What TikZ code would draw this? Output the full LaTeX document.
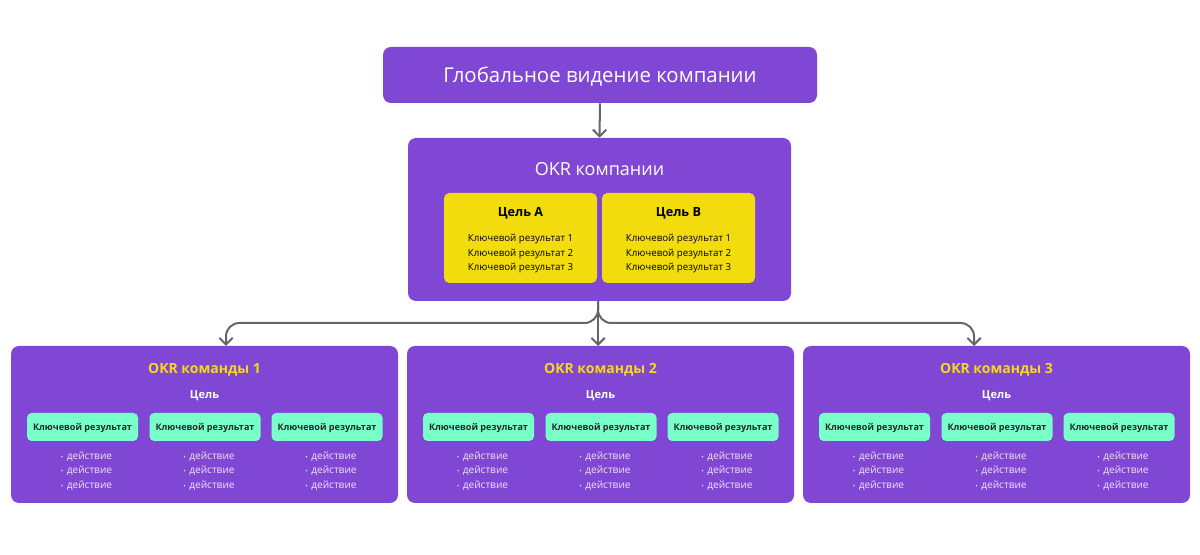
\documentclass[tikz,border=0pt]{standalone}
\usepackage{fontspec}
\setmainfont{Open Sans}
\usetikzlibrary{arrows.meta}
\definecolor{okrpurple}{HTML}{8047D4}
\definecolor{goalyellow}{HTML}{F2DC0E}
\definecolor{krgreen}{HTML}{78FFCA}
\definecolor{titleyellow}{HTML}{F7D81A}
\definecolor{actcol}{HTML}{EDE3FA}
\definecolor{linegray}{HTML}{666666}
\tikzset{
  purplebox/.style={fill=okrpurple, draw=none, rounded corners=6pt, inner sep=0pt},
  yellowbox/.style={fill=goalyellow, draw=none, rounded corners=4pt, inner sep=0pt, minimum width=114.75pt, minimum height=67.5pt},
  greenbox/.style={fill=krgreen, draw=none, rounded corners=3.5pt, inner sep=0pt, minimum width=83.25pt, minimum height=21pt},
  krtext/.style={font=\fontsize{6.8}{8}\selectfont\bfseries, text=black!85, inner sep=0pt},
  teambox/.style={purplebox, minimum width=290.25pt, minimum height=117.75pt},
  teamtitle/.style={font=\fontsize{10.5}{12}\selectfont\bfseries, text=titleyellow, inner sep=0pt},
  goalword/.style={font=\fontsize{8.3}{10}\selectfont\bfseries, text=white, inner sep=0pt},
  acts/.style={font=\fontsize{7.6}{10.9}\selectfont, text=actcol, align=left, inner sep=0pt},
  conn/.style={draw=linegray, line width=1.5pt, -{Straight Barb[length=5pt,width=10pt,line width=1.5pt]}},
}
\newcommand{\actlist}{{\tiny•}\,\,действие\\{\tiny•}\,\,действие\\{\tiny•}\,\,действие}
\begin{document}
\begin{tikzpicture}[x=0.75pt,y=-0.75pt]
\useasboundingbox (0,0) rectangle (1200,555);
\fill[white] (0,0) rectangle (1200,555);

% top box
\node[purplebox, minimum width=325.5pt, minimum height=42pt] (top) at (600,75) {};
\node[text=white, font=\fontsize{15.3}{18}\selectfont, inner sep=0pt] (toptitle) at (600,76.5) {Глобальное видение компании};

% company OKR
\node[purplebox, minimum width=287.25pt, minimum height=122.25pt] (okr) at (599.5,219.5) {};
\node[font=\fontsize{13.5}{16}\selectfont, text=white, inner sep=0pt] (okrtitle) at (599.5,169.5) {OKR компании};

\node[yellowbox] (goalA) at (520.5,238) {};
\node[yellowbox] (goalB) at (678.5,238) {};
\node[font=\fontsize{9.5}{11}\selectfont\bfseries, inner sep=0pt] (goalAt) at (520.5,213) {Цель А};
\node[font=\fontsize{9.5}{11}\selectfont\bfseries, inner sep=0pt] (goalBt) at (678.5,213) {Цель B};
\node[font=\fontsize{7.3}{10.9}\selectfont, align=center, inner sep=0pt] (goalAl) at (520.5,253.5) {Ключевой результат 1\\Ключевой результат 2\\Ключевой результат 3};
\node[font=\fontsize{7.3}{10.9}\selectfont, align=center, inner sep=0pt] (goalBl) at (678.5,253.5) {Ключевой результат 1\\Ключевой результат 2\\Ключевой результат 3};

% teams
\foreach \i/\cx in {1/204.5, 2/600.5, 3/996.5}{
  \node[teambox] (team\i) at (\cx,424.5) {};
  \node[teamtitle] (team\i t) at (\cx,370) {OKR команды \i};
  \node[goalword] (team\i g) at (\cx,396) {Цель};
  \foreach \j/\dx in {1/-122, 2/0.5, 3/122.5}{
    \node[greenbox] (kr\i\j) at (\cx+\dx,427) {};
    \node[krtext] (kr\i\j t) at (\cx+\dx,428) {Ключевой результат};
    \node[acts] (act\i\j) at (\cx+\dx+4,471) {\actlist};
  }
}

% connectors
\draw[conn] (top.south) -- (okr.north);
\coordinate (in1) at (226,346);
\coordinate (in2) at (598,346);
\coordinate (in3) at (974,346);
\coordinate (out) at (598,301);
\draw[conn] (out) -- (in2);
\draw[conn, rounded corners=10pt] (out) -- (598,323) -- (226,323) -- (in1);
\draw[conn, rounded corners=10pt] (out) -- (598,323) -- (974,323) -- (in3);
\end{tikzpicture}
\end{document}
